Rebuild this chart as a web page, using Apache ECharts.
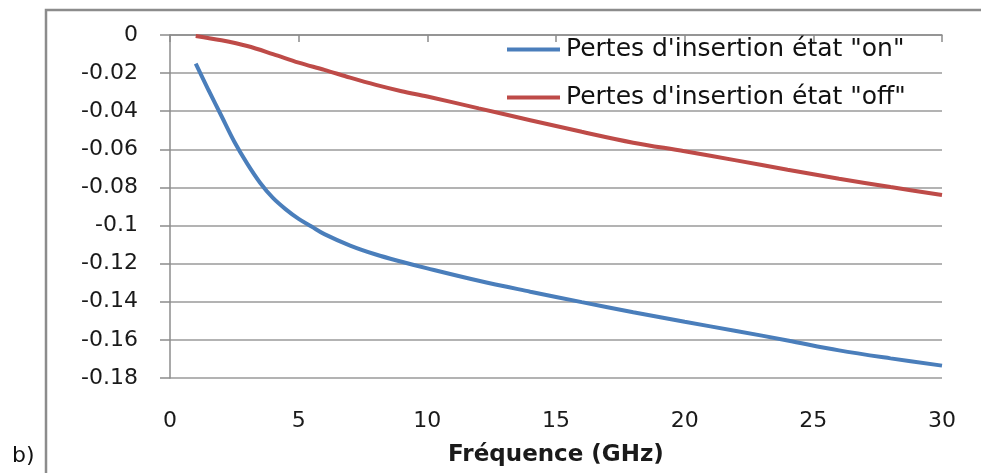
<!DOCTYPE html>
<html>
<head>
<meta charset="utf-8">
<script src="https://cdn.jsdelivr.net/npm/echarts@6/dist/echarts.min.js"></script>
<style>
html,body{margin:0;padding:0;background:#fff;}
#c{width:981px;height:473px;}
</style>
</head>
<body>
<div id="c"></div>
<script>
// Frequency (GHz)
const freqOn = [1, 1.5, 2, 2.5, 3, 3.5, 4, 4.5, 5, 5.5, 6, 7, 8, 9, 10, 12, 14, 16, 18, 20, 22, 24, 26, 28, 30];
const lossOn = [-0.015, -0.029, -0.0425, -0.056, -0.0675, -0.0775, -0.0855, -0.0915, -0.0965, -0.1005, -0.1045, -0.1105, -0.1152, -0.119, -0.1225, -0.129, -0.1347, -0.1402, -0.1455, -0.1505, -0.1553, -0.1603, -0.1655, -0.1697, -0.1735];
const freqOff = [1, 2, 3, 4, 5, 6, 7, 8, 9, 10, 12, 14, 16, 18, 20, 22, 24, 26, 28, 30];
const lossOff = [-0.0005, -0.0028, -0.0058, -0.0100, -0.0145, -0.0183, -0.0224, -0.0262, -0.0295, -0.0323, -0.0385, -0.0447, -0.0508, -0.0565, -0.061, -0.0658, -0.0707, -0.0754, -0.0798, -0.084];
const seriesNames = ['Pertes d\'insertion état "on"', 'Pertes d\'insertion état "off"'];
const xTitle = 'Fréquence (GHz)';
const panelLabel = 'b)';

const FONT = 'DejaVu Sans';
const chart = echarts.init(document.getElementById('c'), null, {renderer: 'canvas'});
const zip = (xs, ys) => xs.map((x, i) => [x, ys[i]]);

chart.setOption({
  animation: false,
  backgroundColor: '#fff',
  grid: {left: 170, right: 39, top: 35, bottom: 95, containLabel: false},
  xAxis: {
    type: 'value', min: 0, max: 30, interval: 5,
    name: xTitle, nameLocation: 'middle', nameGap: 66,
    nameTextStyle: {fontFamily: FONT, fontWeight: 'bold', fontSize: 23, color: '#1a1a1a'},
    axisLine: {show: true, lineStyle: {color: '#8c8c8c', width: 1.5}},
    axisTick: {show: true, inside: false, length: 7, lineStyle: {color: '#8c8c8c', width: 1.5}},
    axisLabel: {fontFamily: FONT, fontSize: 22, color: '#1a1a1a', margin: 32},
    splitLine: {show: false}
  },
  yAxis: {
    type: 'value', min: -0.18, max: 0, interval: 0.02,
    axisLine: {show: true, onZero: false, lineStyle: {color: '#8c8c8c', width: 1.5}},
    axisTick: {show: true, inside: false, length: 10, lineStyle: {color: '#8c8c8c', width: 1.5}},
    axisLabel: {fontFamily: FONT, fontSize: 22, color: '#1a1a1a', margin: 32,
      formatter: v => String(parseFloat(v.toFixed(2)))},
    splitLine: {show: true, lineStyle: {color: '#9a9a9a', width: 1.5}}
  },
  legend: {
    orient: 'vertical', left: 507, top: 37, padding: 0,
    icon: 'rect', itemWidth: 53, itemHeight: 4, itemGap: 23,
    textStyle: {fontFamily: FONT, fontSize: 25, color: '#111', padding: [0,0,0,1]},
    data: seriesNames
  },
  series: [
    {name: seriesNames[0], type: 'line', data: zip(freqOn, lossOn), smooth: 0.35,
     symbol: 'none', itemStyle: {color: '#4a7ebb'}, lineStyle: {color: '#4a7ebb', width: 4}},
    {name: seriesNames[1], type: 'line', data: zip(freqOff, lossOff), smooth: 0.35,
     symbol: 'none', itemStyle: {color: '#be4b48'}, lineStyle: {color: '#be4b48', width: 4}}
  ],
  graphic: [
    {type: 'polyline', shape: {points: [[46, 473], [46, 10], [981, 10]]},
     style: {stroke: '#8c8c8c', lineWidth: 2.5, fill: null}, silent: true},
    {type: 'text', left: 12, top: 445,
     style: {text: panelLabel, fontFamily: FONT, fontSize: 22, fill: '#111'}}
  ]
});
</script>
</body>
</html>
